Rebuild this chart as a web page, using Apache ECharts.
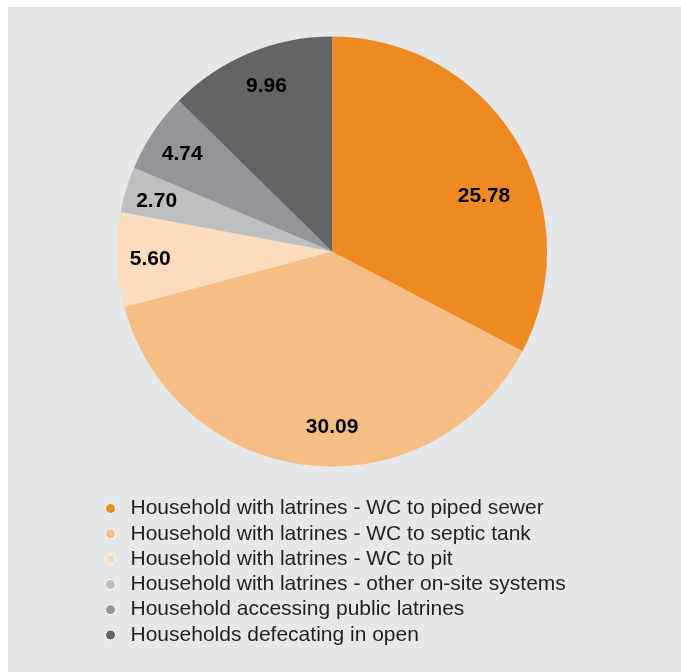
<!DOCTYPE html>
<html>
<head>
<meta charset="utf-8">
<script src="https://cdn.jsdelivr.net/npm/echarts@6/dist/echarts.min.js"></script>
<style>
html,body{margin:0;padding:0;background:#ffffff;}
#chart{position:absolute;left:8px;top:7px;width:673px;height:665px;background:#E6E7E8;}
</style>
</head>
<body>
<div id="chart"></div>
<script>
const categories = [
  'Household with latrines - WC to piped sewer',
  'Household with latrines - WC to septic tank',
  'Household with latrines - WC to pit',
  'Household with latrines - other on-site systems',
  'Household accessing public latrines',
  'Households defecating in open'
];
const values = [25.78, 30.09, 5.60, 2.70, 4.74, 9.96];
const colors = ['#EF8A22', '#F6BE85', '#FBDCBC', '#BDBFC1', '#939598', '#636466'];
// label nudges [dx, dy] in pixels relative to the default inside position
const labelNudge = [[-2, 38], [20, -3], [-2, 1], [-3, 2], [0, 3], [4, 1]];

const chart = echarts.init(document.getElementById('chart'), null, {renderer: 'canvas'});
const center = [324, 244.5];
const R = 215;

const pieData = categories.map((name, i) => ({
  name: name, value: values[i], itemStyle: {color: colors[i]}
}));

function labelFor(i) {
  const dx = labelNudge[i][0], dy = labelNudge[i][1];
  const txt = values[i].toFixed(2);
  const sH = Math.abs(dy) * 2;
  const vPad = dx >= 0 ? [0, 0, 0, dx * 2] : [0, -dx * 2, 0, 0];
  let formatter;
  if (dy > 0) formatter = '{s| }\n{v|' + txt + '}';
  else if (dy < 0) formatter = '{v|' + txt + '}\n{s| }';
  else formatter = '{v|' + txt + '}';
  return {
    formatter: formatter,
    rich: {
      s: {lineHeight: sH, height: sH, fontSize: 1},
      v: {
        fontFamily: 'Liberation Sans, Arial, sans-serif',
        fontSize: 21, fontWeight: 'bold', color: '#000000',
        lineHeight: 24, padding: vPad
      }
    }
  };
}

const labelData = categories.map((name, i) => ({
  name: name, value: values[i], label: labelFor(i)
}));

chart.setOption({
  backgroundColor: 'transparent',
  animation: false,
  color: colors,
  legend: {
    orient: 'vertical',
    left: 92,
    top: 486,
    itemWidth: 30,
    itemHeight: 10,
    itemGap: 4.3,
    icon: 'circle',
    itemStyle: {borderColor: '#ffffff', borderWidth: 1},
    textStyle: {fontFamily: 'Liberation Sans, Arial, sans-serif', fontSize: 21, color: '#231F20', lineHeight: 20},
    data: categories,
    selectedMode: false
  },
  series: [
    {
      type: 'pie',
      center: center,
      radius: [0, R],
      startAngle: 90,
      clockwise: true,
      silent: true,
      label: {show: false},
      labelLine: {show: false},
      itemStyle: {borderWidth: 0},
      data: pieData
    },
    {
      type: 'pie',
      center: center,
      radius: [139, R],
      startAngle: 90,
      clockwise: true,
      silent: true,
      legendHoverLink: false,
      itemStyle: {color: 'rgba(0,0,0,0)', borderWidth: 0},
      label: {
        show: true,
        position: 'inside',
        color: '#000000'
      },
      labelLine: {show: false},
      data: labelData
    }
  ]
});
</script>
</body>
</html>
